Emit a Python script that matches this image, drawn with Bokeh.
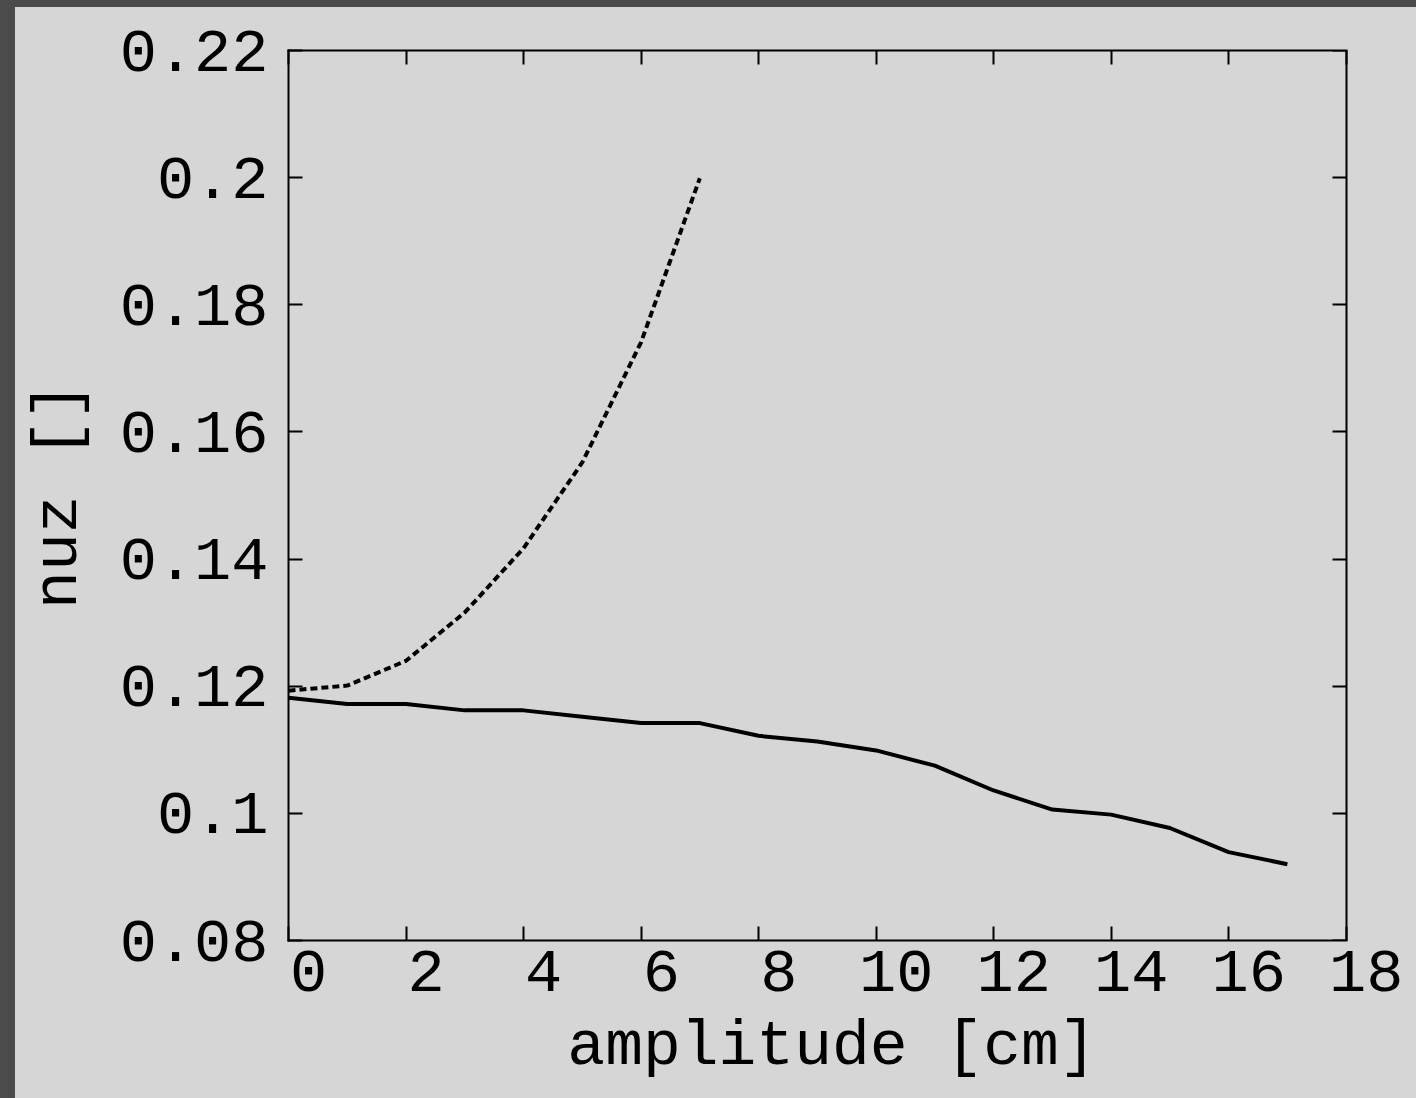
from bokeh.plotting import figure
from bokeh.layouts import column
from bokeh.models import (LinearAxis, FixedTicker, Range1d, CustomLabelingPolicy)
from bokeh.embed import file_html
from bokeh.resources import INLINE

# ---- data ----
amplitude_solid = [0, 1, 2, 3, 4, 5, 6, 7, 8, 9, 10, 11, 12, 13, 14, 15, 16, 17]
nuz_solid = [0.1182, 0.1172, 0.1172, 0.1162, 0.1162, 0.1152, 0.1142, 0.1142,
             0.1122, 0.1113, 0.1099, 0.1075, 0.1036, 0.1006, 0.0998, 0.0977,
             0.0939, 0.0920]
amplitude_dashed = [0, 1, 2, 3, 4, 5, 6, 7]
nuz_dashed = [0.1193, 0.1201, 0.1240, 0.1316, 0.1417, 0.1552, 0.1741, 0.1999]

x_ticks = [0, 2, 4, 6, 8, 10, 12, 14, 16, 18]
x_tick_labels = ["0", "2", "4", "6", "8", "10", "12", "14", "16", "18"]
y_ticks = [0.08, 0.10, 0.12, 0.14, 0.16, 0.18, 0.20, 0.22]
y_tick_labels = ["0.08", "0.1", "0.12", "0.14", "0.16", "0.18", "0.2", "0.22"]

FONT = "Liberation Mono"
FS = "62px"
FS_LABEL = "63px"
BG = "#d6d6d6"
DARK = "#4b4b4b"

X0, X1 = 0, 18          # visible box of the plot
XR = 18.5               # frame runs a little past the box so the shifted "18" text fits
Y0, Y1 = 0.08, 0.22
LABEL_SHIFT = 0.34375   # x tick texts sit ~20 px right of their ticks in the reference

p = figure(width=1401, height=1091, x_range=Range1d(X0, XR), y_range=Range1d(Y0, Y1),
           output_backend="svg", toolbar_location=None,
           min_border_left=273, min_border_right=41, min_border_top=43, min_border_bottom=158,
           background_fill_color=BG, border_fill_color=BG)
p.margin = (7, 0, 0, 15)
p.styles = {"background-color": BG}
p.extra_x_ranges = {"labels": Range1d(X0 - LABEL_SHIFT, XR - LABEL_SHIFT)}
p.xgrid.visible = False
p.ygrid.visible = False
p.outline_line_color = None

hide_all = CustomLabelingPolicy(code="for (const i of indices) indices.unset(i)")

def style_axis(ax, show_labels):
    ax.axis_line_color = "black"
    ax.axis_line_width = 2
    ax.axis_line_cap = "square"
    ax.major_tick_in = 14
    ax.major_tick_out = 0
    ax.major_tick_line_width = 2
    ax.major_tick_line_color = "black"
    ax.minor_tick_line_color = None
    ax.major_label_text_font = FONT
    ax.major_label_text_color = "black"
    if show_labels:
        ax.major_label_text_font_size = FS
    else:
        ax.major_label_text_font_size = "1px"
        ax.major_label_standoff = 0
        ax.major_label_policy = hide_all

# bottom axis: line + ticks only, limited to the visible box
xa = p.xaxis[0]
xa.ticker = FixedTicker(ticks=x_ticks)
xa.bounds = (X0, X1)
style_axis(xa, False)

# bottom tick texts + axis title on a shifted copy of the x range
xl = LinearAxis(x_range_name="labels", ticker=FixedTicker(ticks=x_ticks),
                bounds=(X0 - LABEL_SHIFT, X1 - LABEL_SHIFT))
style_axis(xl, True)
xl.axis_line_color = None
xl.major_tick_line_color = None
xl.major_tick_in = 0
xl.major_label_standoff = 6
xl.axis_label = "amplitude [cm]"
xl.axis_label_text_font = FONT
xl.axis_label_text_font_size = FS_LABEL
xl.axis_label_text_font_style = "normal"
xl.axis_label_text_color = "black"
xl.axis_label_standoff = 18
p.add_layout(xl, "below")

ya = p.yaxis[0]
ya.ticker = FixedTicker(ticks=y_ticks)
ya.major_label_overrides = {t: l for t, l in zip(y_ticks, y_tick_labels)}
style_axis(ya, True)
ya.major_label_standoff = 20
ya.axis_label = "nuz []"
ya.axis_label_text_font = FONT
ya.axis_label_text_font_size = FS_LABEL
ya.axis_label_text_font_style = "normal"
ya.axis_label_text_color = "black"
ya.axis_label_standoff = 22

top = LinearAxis(ticker=FixedTicker(ticks=x_ticks), bounds=(X0, X1))
style_axis(top, False)
p.add_layout(top, "above")

# right edge of the box with mirrored ticks, placed at x = 18
right = LinearAxis(ticker=FixedTicker(ticks=y_ticks), fixed_location=X1)
style_axis(right, False)
p.add_layout(right, "right")

p.line(amplitude_solid, nuz_solid, line_color="black", line_width=4)
p.line(amplitude_dashed, nuz_dashed, line_color="black", line_width=4, line_dash="7 4")

page = column(p, styles={"background-color": DARK})

open("out.html", "w").write(file_html(page, INLINE))
